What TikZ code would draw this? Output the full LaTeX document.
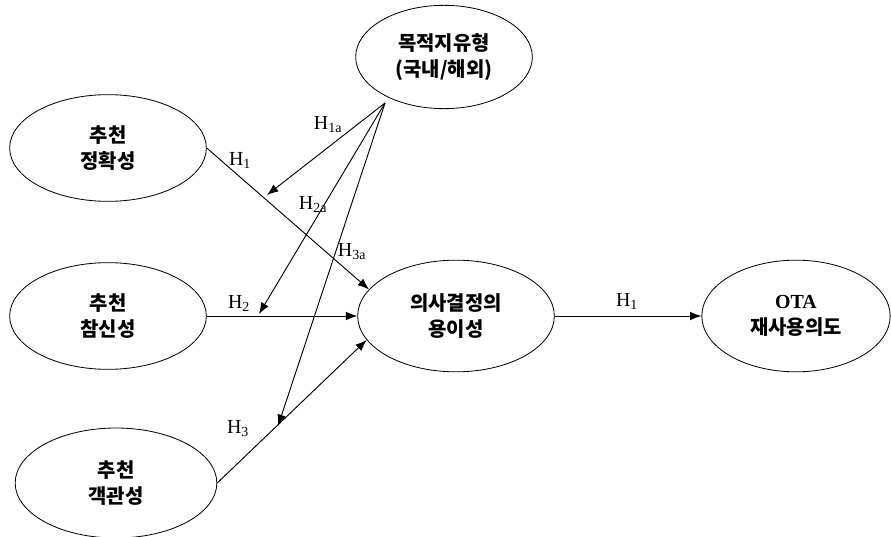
\documentclass[tikz,border=0pt]{standalone}
\usepackage{fontspec}
\setmainfont{Liberation Serif}
\newfontfamily\kr{Noto Sans CJK KR}
\usetikzlibrary{arrows.meta, positioning, shapes.geometric}

\begin{document}
\begin{tikzpicture}[
        x=0.03cm, y=-0.03cm,
        var/.style={ellipse, draw, line width=0.7pt, align=center, inner sep=0pt,
                    minimum width=5.9cm, minimum height=3.2cm,
                    font=\kr\bfseries\fontsize{17}{22.5}\selectfont},
        hyp/.style={font=\fontsize{17}{19}\selectfont},
        line/.style={line width=0.8pt, -{Latex[length=3.4mm, width=2.6mm]}}
    ]
    \useasboundingbox (0,0) rectangle (891,537);
    \node [var] (acc) at (108,148) {추천\\정확성};
    \node [var] (nov) at (108,316) {추천\\참신성};
    \node [var, minimum width=6.05cm, minimum height=3.3cm] (obj) at (116,483) {추천\\객관성};
    \node [var, minimum width=5.3cm, minimum height=3.1cm] (dest) at (444,57) {목적지유형\\(국내/해외)};
    \node [var, minimum height=3.35cm] (ease) at (456,316) {의사결정의\\용이성};
    \node [var, minimum width=5.65cm, minimum height=3.35cm] (reuse) at (796,316)
          {{\rmfamily OTA}\\재사용의도};
    \coordinate (src) at (385,103);
    \coordinate (m1) at (267,195);
    \coordinate (m2) at (259,314);
    \coordinate (m3) at (278,426);
    \draw[line] (acc.east) -- (ease.163);
    \draw[line] (nov.east) -- (ease.west);
    \draw[line] (obj.east) -- (ease.195);
    \draw[line] (ease.east) -- (reuse.west);
    \draw[line] (src) -- (m1);
    \draw[line] (src) -- (m2);
    \draw[line] (src) -- (m3);
    \node [hyp] (l1a) at (328,125) {H\textsubscript{1a}};
    \node [hyp] (l1) at (240,160) {H\textsubscript{1}};
    \node [hyp] (l2a) at (313,205) {H\textsubscript{2a}};
    \node [hyp] (l3a) at (352,252) {H\textsubscript{3a}};
    \node [hyp] (l2) at (239,303) {H\textsubscript{2}};
    \node [hyp] (l3) at (238,429) {H\textsubscript{3}};
    \node [hyp] (l4) at (627,301) {H\textsubscript{1}};
  \end{tikzpicture}
\end{document}
